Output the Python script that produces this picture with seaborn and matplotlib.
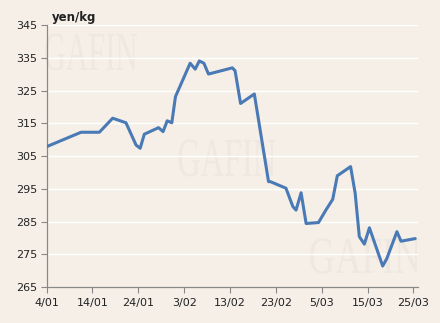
import matplotlib
matplotlib.use("Agg")
import matplotlib.pyplot as plt
import seaborn as sns
import pandas as pd
from matplotlib.textpath import TextPath
from matplotlib.patches import PathPatch
from matplotlib.font_manager import FontProperties
from matplotlib.transforms import Affine2D

# Day offsets from 4 Jan and prices (yen/kg)
days = [0, 7.5, 11.5, 14.4, 17.3, 19.5, 20.4, 21.3, 24.4, 25.4, 26.3, 27.3, 28.1,
        31.3, 32.4, 33.3, 34.3, 35.3, 37.8, 40.5, 41.1, 42.3, 45.3, 48.4, 48.8,
        52.2, 53.7, 54.4, 55.5, 56.6, 59.3, 60.9, 62.4, 63.4, 66.3, 67.3, 68.2,
        69.3, 70.4, 73.3, 74.2, 76.4, 77.3, 80.4]
prices = [307.9, 312.3, 312.3, 316.6, 315.2, 308.4, 307.4, 311.7, 313.7, 312.5,
          315.8, 315.2, 323.2, 333.4, 331.6, 334.1, 333.4, 330.1, 331.0, 332.0,
          331.1, 321.1, 324.0, 297.2, 297.2, 295.2, 289.6, 288.5, 293.8, 284.4,
          284.7, 288.5, 291.8, 299.0, 301.8, 293.6, 280.4, 278.1, 283.1, 271.4,
          273.7, 281.9, 279.0, 279.8]
tick_days = [0, 10, 20, 30, 40, 50, 60, 70, 80]
tick_labels = ["4/01", "14/01", "24/01", "3/02", "13/02", "23/02", "5/03", "15/03", "25/03"]
y_ticks = [265, 275, 285, 295, 305, 315, 325, 335, 345]
unit_label = "yen/kg"
watermark = "GAFIN"

bg = "#F5EFE8"
W, H = 440, 323
sns.set_theme(style="white")
plt.rcParams["font.family"] = ["DejaVu Sans"]

fig = plt.figure(figsize=(4.4, 3.23), dpi=100, facecolor=bg)

# faint, horizontally squeezed watermarks (drawn in pixel space, behind the axes)
fp = FontProperties(family=["Liberation Serif", "DejaVu Serif"])
tp = TextPath((0, 0), watermark, size=100, prop=fp)
ext = tp.get_extents()
for (cx, cy, w, h) in [(91, 52, 92, 37), (227, 158, 97, 37), (365, 256, 110, 35)]:
    sx = w / ext.width
    sy = h / ext.height
    tr = (Affine2D().translate(-ext.x0 - ext.width / 2, -ext.y0 - ext.height / 2)
          .scale(sx, sy).translate(cx, H - cy))
    patch = PathPatch(tr.transform_path(tp), facecolor="#EFE8E0", edgecolor="none",
                      transform=None, zorder=0)
    fig.patches.append(patch)
    patch.set_figure(fig)

ax = fig.add_axes([0.106, 0.1115, 0.844, 0.8102])
ax.set_zorder(1)
ax.patch.set_alpha(0)

for yv in y_ticks[1:]:
    ax.axhline(yv, color="white", lw=1.0, zorder=1)

df = pd.DataFrame({"day": days, "price": prices})
sns.lineplot(data=df, x="day", y="price", ax=ax, color="#4A7AB6", lw=2.2,
             zorder=3, sort=False)

ax.set_xlim(0, 81)
ax.set_ylim(265, 345)
ax.set_yticks(y_ticks)
ax.set_xticks(tick_days)
ax.set_xticklabels(tick_labels)
ax.set_xlabel("")
ax.set_ylabel("")
ax.tick_params(axis="both", labelsize=8, colors="#222222", length=4,
               width=0.8, direction="out", pad=2)
ax.tick_params(axis="x", pad=4, color="#888888")
ax.tick_params(axis="y", pad=3, color="#888888")
ax.tick_params(axis="both", which="both", bottom=True, left=True)
for s in ["top", "right"]:
    ax.spines[s].set_visible(False)
for s in ["left", "bottom"]:
    ax.spines[s].set_color("#888888")
    ax.spines[s].set_linewidth(0.9)

fig.text(0.118, 0.945, unit_label, fontsize=8.5, fontweight="bold", color="#222222",
         ha="left", va="center")

fig.savefig("out.png", dpi=100, facecolor=bg)
